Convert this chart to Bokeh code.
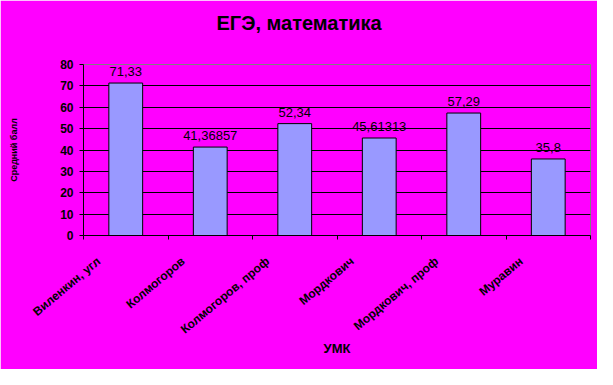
import math
from bokeh.plotting import figure
from bokeh.models import Range1d, FixedTicker, ColumnDataSource, LabelSet, LinearAxis
from bokeh.core.properties import value
from bokeh.embed import file_html
from bokeh.resources import INLINE

categories = ["Виленкин, угл", "Колмогоров", "Колмогоров, проф", "Мордкович", "Мордкович, проф", "Муравин"]
values = [71.33, 41.36857, 52.34, 45.61313, 57.29, 35.8]
value_labels = ["71,33", "41,36857", "52,34", "45,61313", "57,29", "35,8"]
y_ticks = [0, 10, 20, 30, 40, 50, 60, 70, 80]
title_text = "ЕГЭ, математика"
x_title = "УМК"
y_title = "Средний балл"

MAG = "#FF00FF"
FONT = "Liberation Sans"

n = len(categories)
xs = [i + 0.5 for i in range(n)]
label_shift = 0.32  # category labels sit slightly left of the bar centre, as in the original
label_pos = [x - label_shift for x in xs]

p = figure(width=597, height=369, output_backend="svg", toolbar_location=None,
           x_range=Range1d(0, n), y_range=Range1d(y_ticks[0], y_ticks[-1]),
           min_border_left=83, min_border_right=7, min_border_top=64, min_border_bottom=134,
           title=title_text)
p.background_fill_color = MAG
p.border_fill_color = MAG
p.outline_line_color = "#808080"
p.outline_line_width = 1

p.title.align = "left"
p.title.text_font = FONT
p.title.text_font_style = "bold"
p.title.text_font_size = "20px"
p.title.text_color = "black"
p.title.offset = 133
p.title.standoff = 0

src = ColumnDataSource(dict(x=xs, top=values, cat=categories, lab=value_labels))
p.vbar(x="x", top="top", width=0.4, bottom=0, source=src,
       fill_color="#9999FF", line_color="black", line_width=1)

# x axis: labels near category centres, tick marks at category boundaries
xa = p.below[0]
xa.ticker = FixedTicker(ticks=label_pos, minor_ticks=list(range(n + 1)))
xa.major_label_overrides = {x: c for x, c in zip(label_pos, categories)}
xa.major_label_orientation = math.radians(40)
xa.major_label_text_font = FONT
xa.major_label_text_font_style = "bold"
xa.major_label_text_font_size = "12px"
xa.major_label_text_color = "black"
xa.major_label_standoff = 18
xa.major_tick_line_color = None
xa.minor_tick_out = 4
xa.minor_tick_in = 0
xa.minor_tick_line_color = "black"
xa.axis_line_color = "black"
xa.axis_label = x_title
xa.axis_label_text_font = FONT
xa.axis_label_text_font_style = "bold"
xa.axis_label_text_font_size = "13px"
xa.axis_label_text_color = "black"
xa.axis_label_standoff = -4

ya = p.left[0]
ya.ticker = FixedTicker(ticks=y_ticks)
ya.major_tick_out = 4
ya.major_tick_in = 0
ya.minor_tick_line_color = None
ya.axis_line_color = "black"
ya.major_tick_line_color = "black"
ya.major_label_text_font = FONT
ya.major_label_text_font_style = "bold"
ya.major_label_text_font_size = "12px"
ya.major_label_text_color = "black"
ya.major_label_standoff = 6
ya.axis_label = y_title
ya.axis_label_text_font = FONT
ya.axis_label_text_font_style = "bold"
ya.axis_label_text_font_size = "9px"
ya.axis_label_text_color = "black"
ya.axis_label_standoff = 38

p.xgrid.grid_line_color = None
p.ygrid.ticker = FixedTicker(ticks=y_ticks[1:-1])
p.ygrid.grid_line_color = "black"
p.ygrid.grid_line_width = 1

# invisible spacer between the title and the plot area (added after axis styling)
spacer = LinearAxis(ticker=FixedTicker(ticks=[0]), major_label_overrides={0: ""},
                    major_label_text_font_size="0px",
                    major_tick_out=31, major_tick_in=0, major_tick_line_alpha=0,
                    minor_tick_line_color=None, axis_line_color=None, major_label_standoff=0)
p.add_layout(spacer, "above")

# value labels
p.add_layout(LabelSet(x="x", y="top", text="lab", source=src, text_align="center",
                      text_baseline="bottom", y_offset=7, text_font=value(FONT),
                      text_font_size="13px", text_color="black"))

html = file_html(p, INLINE)
html = html.replace("<body>", '<body style="background:black">', 1)
open("out.html", "w").write(html)
